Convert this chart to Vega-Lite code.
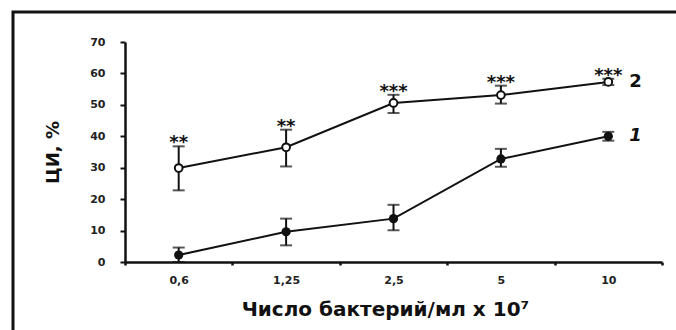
{
  "$schema": "https://vega.github.io/schema/vega-lite/v6.json",
  "width": 676,
  "height": 330,
  "autosize": {"type": "none"},
  "padding": {"left": 13, "top": 12, "right": 0, "bottom": 0},
  "background": "white",
  "config": {
    "view": {"stroke": "#111", "strokeWidth": 3},
    "font": "DejaVu Sans"
  },
  "data": {
    "values": [
      {"conc": "0,6", "group": "1", "mean": 2.2, "lo": 0, "hi": 4.6, "stars": ""},
      {"conc": "1,25", "group": "1", "mean": 9.6, "lo": 5.3, "hi": 13.8, "stars": ""},
      {"conc": "2,5", "group": "1", "mean": 13.8, "lo": 10.1, "hi": 18.2, "stars": ""},
      {"conc": "5", "group": "1", "mean": 32.8, "lo": 30.3, "hi": 36.0, "stars": ""},
      {"conc": "10", "group": "1", "mean": 40.0, "lo": 38.6, "hi": 41.4, "stars": ""},
      {"conc": "0,6", "group": "2", "mean": 29.9, "lo": 22.8, "hi": 36.8, "stars": "**"},
      {"conc": "1,25", "group": "2", "mean": 36.5, "lo": 30.4, "hi": 42.1, "stars": "**"},
      {"conc": "2,5", "group": "2", "mean": 50.6, "lo": 47.4, "hi": 53.2, "stars": "***"},
      {"conc": "5", "group": "2", "mean": 53.1, "lo": 50.4, "hi": 56.1, "stars": "***"},
      {"conc": "10", "group": "2", "mean": 57.3, "lo": 56.3, "hi": 58.3, "stars": "***"}
    ]
  },
  "encoding": {
    "x": {
      "field": "conc",
      "type": "ordinal",
      "sort": ["0,6", "1,25", "2,5", "5", "10"],
      "scale": {"type": "band", "range": [112, 649], "paddingInner": 0, "paddingOuter": 0},
      "axis": {
        "title": "Число бактерий/мл x 10⁷",
        "offset": -80,
        "labelAngle": 0,
        "tickBand": "extent",
        "domainWidth": 2.5,
        "domainColor": "#111",
        "tickColor": "#111",
        "tickSize": 3,
        "tickWidth": 2.5,
        "labelFont": "DejaVu Sans",
        "labelFontWeight": "bold",
        "labelFontSize": 11,
        "labelColor": "#222",
        "labelPadding": 9,
        "titleFont": "DejaVu Sans",
        "titleFontSize": 20,
        "titleFontWeight": "bold",
        "titleColor": "#111",
        "titlePadding": 14,
        "titleX": 372,
        "titleAlign": "center"
      }
    }
  },
  "layer": [
    {
      "mark": {"type": "line", "color": "#111", "strokeWidth": 2},
      "encoding": {
        "y": {
          "field": "mean",
          "type": "quantitative",
          "scale": {"domain": [0, 70], "range": [250, 30], "nice": false, "zero": true},
          "axis": {
            "title": "ЦИ, %",
            "offset": -112,
            "values": [0, 10, 20, 30, 40, 50, 60, 70],
            "grid": false,
            "domainWidth": 2.5,
            "domainColor": "#111",
            "tickColor": "#111",
            "tickSize": 5,
            "tickWidth": 2,
            "labelFont": "DejaVu Sans",
            "labelFontWeight": "bold",
            "labelFontSize": 11,
            "labelColor": "#222",
            "labelPadding": 15,
            "titleFont": "DejaVu Sans",
            "titleFontSize": 18,
            "titleFontWeight": "bold",
            "titleColor": "#111",
            "titlePadding": 27
          }
        },
        "detail": {"field": "group"}
      }
    },
    {
      "mark": {"type": "rule", "color": "#111", "strokeWidth": 2},
      "encoding": {
        "y": {"field": "lo", "type": "quantitative"},
        "y2": {"field": "hi"}
      }
    },
    {
      "mark": {"type": "tick", "color": "#111", "size": 12, "thickness": 2},
      "encoding": {"y": {"field": "lo", "type": "quantitative"}}
    },
    {
      "mark": {"type": "tick", "color": "#111", "size": 12, "thickness": 2},
      "encoding": {"y": {"field": "hi", "type": "quantitative"}}
    },
    {
      "transform": [{"filter": "datum.group == '1'"}],
      "mark": {"type": "point", "shape": "circle", "filled": true, "color": "#111", "size": 85, "opacity": 1},
      "encoding": {"y": {"field": "mean", "type": "quantitative"}}
    },
    {
      "transform": [{"filter": "datum.group == '2'"}],
      "mark": {"type": "point", "shape": "circle", "filled": true, "fill": "white", "stroke": "#111", "strokeWidth": 2, "size": 60, "opacity": 1},
      "encoding": {"y": {"field": "mean", "type": "quantitative"}}
    },
    {
      "transform": [{"filter": "datum.group == '2'"}],
      "mark": {"type": "text", "font": "DejaVu Sans", "fontSize": 18, "fontWeight": "bold", "baseline": "alphabetic", "align": "center", "color": "#111", "dy": 2},
      "encoding": {
        "y": {"field": "hi", "type": "quantitative"},
        "text": {"field": "stars"}
      }
    },
    {
      "transform": [{"filter": "datum.conc == '10' && datum.group == '2'"}],
      "mark": {"type": "text", "font": "DejaVu Sans", "fontSize": 18, "fontWeight": "bold", "align": "left", "baseline": "middle", "dx": 21, "color": "#111"},
      "encoding": {
        "y": {"field": "mean", "type": "quantitative"},
        "text": {"field": "group"}
      }
    },
    {
      "transform": [{"filter": "datum.conc == '10' && datum.group == '1'"}],
      "mark": {"type": "text", "font": "DejaVu Sans", "fontSize": 18, "fontWeight": "bold", "fontStyle": "italic", "align": "left", "baseline": "middle", "dx": 21, "color": "#111"},
      "encoding": {
        "y": {"field": "mean", "type": "quantitative"},
        "text": {"field": "group"}
      }
    }
  ]
}
